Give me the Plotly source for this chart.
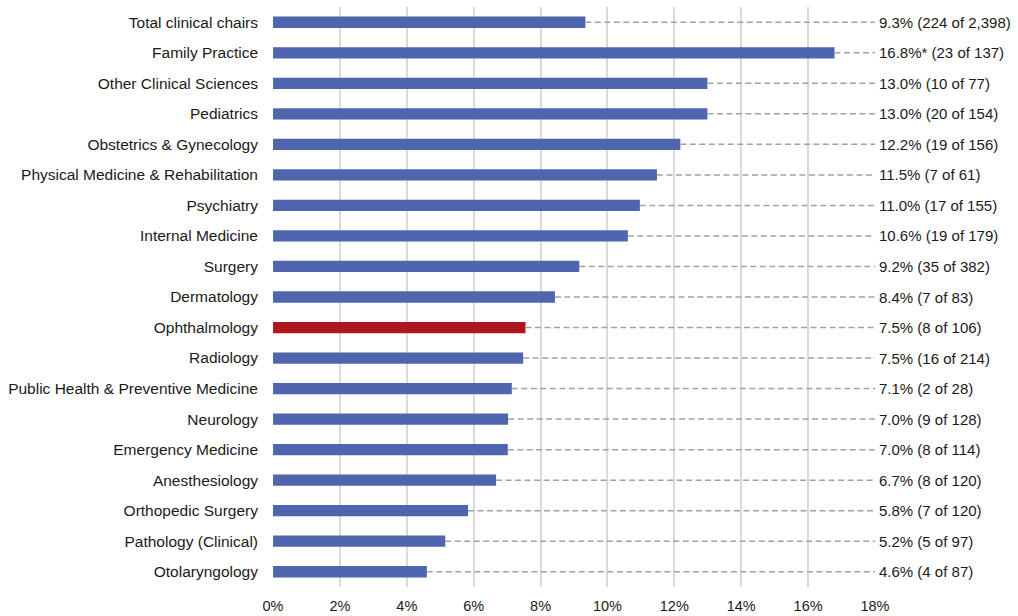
import plotly.graph_objects as go

categories = [
    "Total clinical chairs", "Family Practice", "Other Clinical Sciences", "Pediatrics",
    "Obstetrics & Gynecology", "Physical Medicine & Rehabilitation", "Psychiatry",
    "Internal Medicine", "Surgery", "Dermatology", "Ophthalmology", "Radiology",
    "Public Health & Preventive Medicine", "Neurology", "Emergency Medicine",
    "Anesthesiology", "Orthopedic Surgery", "Pathology (Clinical)", "Otolaryngology",
]
values = [9.34, 16.79, 12.99, 12.99, 12.18, 11.48, 10.97, 10.61, 9.16, 8.43,
          7.55, 7.48, 7.14, 7.03, 7.02, 6.67, 5.83, 5.15, 4.60]
labels = [
    "9.3% (224 of 2,398)", "16.8%* (23 of 137)", "13.0% (10 of 77)", "13.0% (20 of 154)",
    "12.2% (19 of 156)", "11.5% (7 of 61)", "11.0% (17 of 155)", "10.6% (19 of 179)",
    "9.2% (35 of 382)", "8.4% (7 of 83)", "7.5% (8 of 106)", "7.5% (16 of 214)",
    "7.1% (2 of 28)", "7.0% (9 of 128)", "7.0% (8 of 114)", "6.7% (8 of 120)",
    "5.8% (7 of 120)", "5.2% (5 of 97)", "4.6% (4 of 87)",
]
highlight = "Ophthalmology"
x_max = 18
x_ticks = list(range(0, 19, 2))

BLUE = "#4F65AE"
RED = "#B0161F"
FONT = "Liberation Sans, Arial, sans-serif"

colors = [RED if c == highlight else BLUE for c in categories]

fig = go.Figure()

# dashed leader lines from bar end to the label column
for c, v in zip(categories, values):
    fig.add_trace(go.Scatter(
        x=[v, x_max], y=[c, c], mode="lines",
        line=dict(color="#a2a2a2", width=1.5, dash="6px,3.5px"),
        hoverinfo="skip", showlegend=False,
    ))

fig.add_trace(go.Bar(
    x=values, y=categories, orientation="h",
    marker=dict(color=colors, line=dict(width=0)),
    width=0.37, showlegend=False,
))

for c, lab in zip(categories, labels):
    fig.add_annotation(
        x=x_max, y=c, xref="x", yref="y", text=lab, showarrow=False,
        xanchor="left", yanchor="middle", xshift=2,
        font=dict(family=FONT, size=15, color="#1a1a1a"),
    )

fig.update_layout(
    width=1018, height=616,
    margin=dict(l=273, r=143, t=7, b=29),
    paper_bgcolor="white", plot_bgcolor="white",
    font=dict(family=FONT, size=15, color="#1a1a1a"),
    bargap=0.6,
)
fig.update_xaxes(
    range=[-0.001, x_max + 0.001], tickvals=x_ticks,
    ticktext=[f"{t}%" for t in x_ticks],
    showgrid=True, gridcolor="#dadada", gridwidth=1.5,
    zeroline=False, showline=False, ticks="", ticklabelstandoff=8,
    tickfont=dict(size=14.5), automargin=False,
)
fig.update_yaxes(
    categoryorder="array", categoryarray=categories,
    range=[len(categories) - 0.5, -0.5],
    showgrid=False, zeroline=False, showline=False, ticks="",
    ticklabelstandoff=14, tickfont=dict(size=15.5), automargin=False,
)

fig.write_html("out.html")
